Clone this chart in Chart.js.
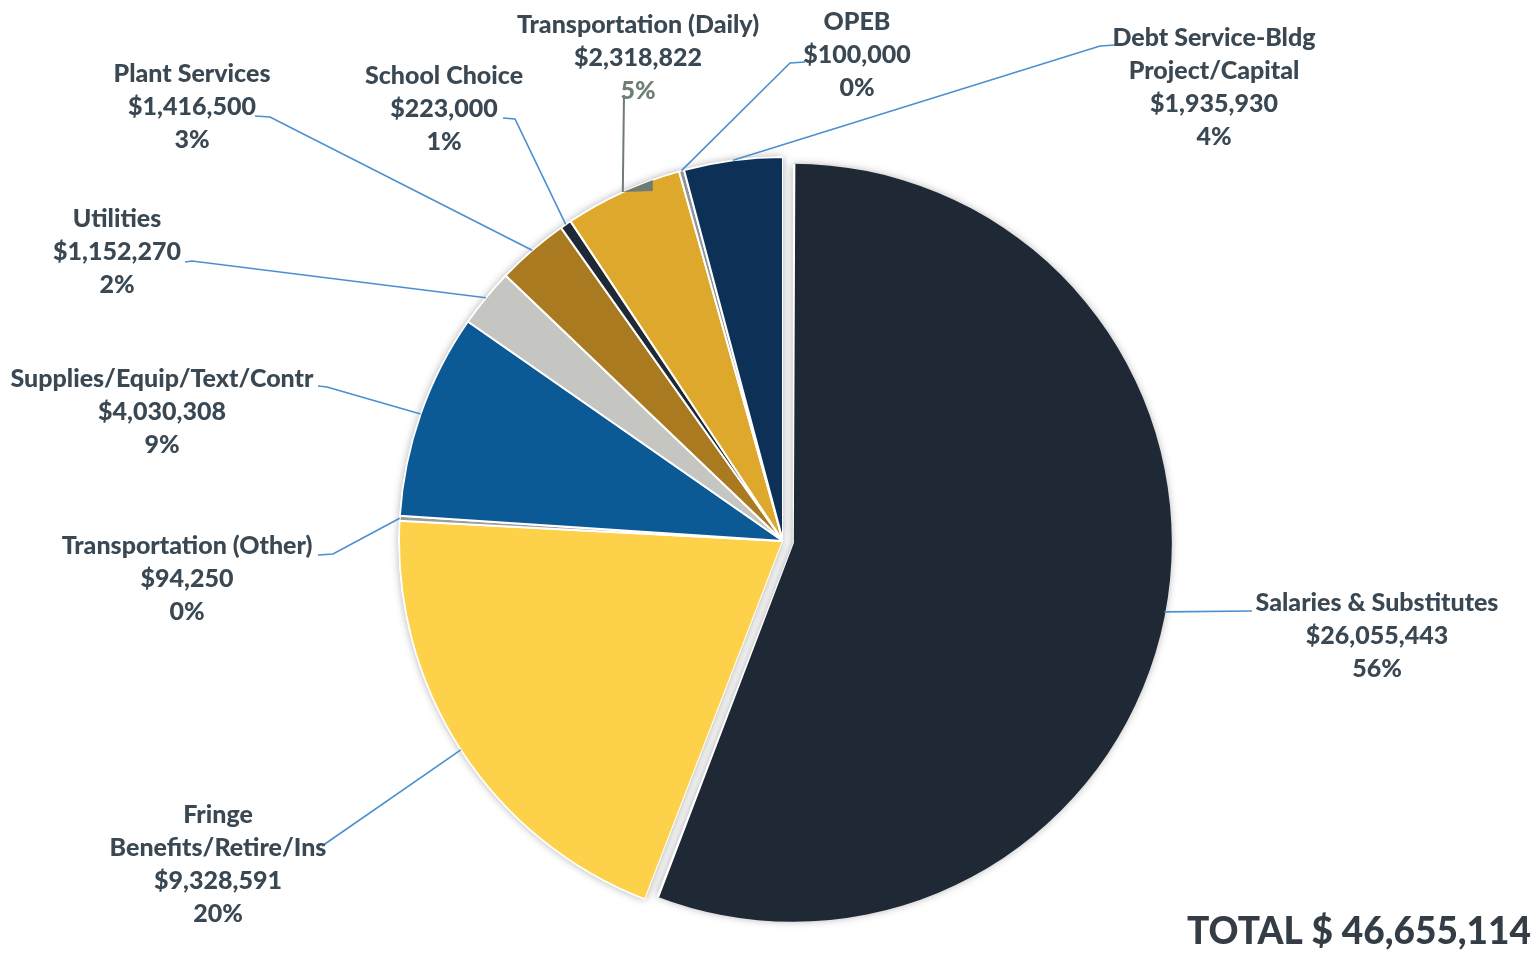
<!DOCTYPE html>
<html>
<head>
<meta charset="utf-8">
<title>Budget by Category</title>
<script src="https://cdn.jsdelivr.net/npm/chart.js@4.4.0/dist/chart.umd.min.js"></script>
<style>
  html, body { margin: 0; padding: 0; background: #ffffff; }
  #wrap { position: relative; width: 1537px; height: 953px; }
</style>
</head>
<body>
<div id="wrap"><canvas id="budgetPie"></canvas></div>
<script>
// Budget categories, clockwise from 12 o'clock
const categories = [
    'Salaries & Substitutes',
    ['Fringe', 'Benefits/Retire/Ins'],
    'Transportation (Other)',
    'Supplies/Equip/Text/Contr',
    'Utilities',
    'Plant Services',
    'School Choice',
    'Transportation (Daily)',
    'OPEB',
    ['Debt Service-Bldg', 'Project/Capital']
];
const amounts = [26055443, 9328591, 94250, 4030308, 1152270, 1416500, 223000, 2318822, 100000, 1935930];
const sliceColors = ['#1f2835', '#fdd149', '#9c9c9a', '#0b5a96', '#c5c5c1', '#a97a1f', '#1f2835', '#dea82d', '#8d949a', '#0d3057'];

// where each label block sits: centre x, first line y
const labelSpots = [
    [1377, 603], [218, 815], [187, 546], [162, 379], [117, 219],
    [192, 74], [444, 76], [638, 25], [857, 22], [1214, 38]
];
// leader line bend points (label side), nearest-to-text last
const leaderEnds = [
    [[1252, 611]],
    [[322, 846]],
    [[333, 554], [318, 555]],
    [[327, 387], [318, 386]],
    [[192, 261], [185, 262]],
    [[270, 117], [255, 116]],
    [[515, 119], [503, 118]],
    [[624, 95]],
    [[790, 63], [805, 62]],
    [[1100, 46], [1115, 45]]
];
// pulled-out distance of each slice in px, and how much smaller it is drawn
const sliceOffsets = [10, 0, 0, 0, 0, 0, 0, 0, 0, 0];
const sliceTrim = [6, 0, 0, 0, 0, 0, 0, 0, 0, 0];

const total = amounts.reduce((a, b) => a + b, 0);

// whole percentages that add up to 100 (largest remainder)
function wholePercents(vals) {
    const raw = vals.map(v => v / total * 100);
    const out = raw.map(Math.floor);
    let left = 100 - out.reduce((a, b) => a + b, 0);
    const order = raw.map((r, i) => [r - Math.floor(r), i]).sort((a, b) => b[0] - a[0]);
    for (let k = 0; k < left; k++) out[order[k][1]] += 1;
    return out;
}
const percents = wholePercents(amounts);

const money = v => '$' + v.toLocaleString('en-US');
const labelFont = '900 25px Lato, "Open Sans", sans-serif';
const textColor = '#3a4853';

function sliceGeometry(chart, i) {
    const el = chart.getDatasetMeta(0).data[i];
    const p = el.getProps(['x', 'y', 'startAngle', 'endAngle', 'outerRadius'], true);
    const mid = (p.startAngle + p.endAngle) / 2;
    const off = sliceOffsets[i];
    return {
        cx: p.x + Math.cos(mid) * off,
        cy: p.y + Math.sin(mid) * off,
        r: p.outerRadius - sliceTrim[i],
        start: p.startAngle,
        end: p.endAngle,
        mid: mid
    };
}

function wedge(ctx, g) {
    ctx.moveTo(g.cx, g.cy);
    ctx.arc(g.cx, g.cy, g.r, g.start, g.end);
    ctx.closePath();
}

// soft shadow under the pie, then clip the slices to their drawn size
const pieShadow = {
    id: 'pieShadow',
    beforeDatasetsDraw(chart) {
        const ctx = chart.ctx;
        const shapes = amounts.map((v, i) => sliceGeometry(chart, i));
        ctx.save();
        ctx.shadowColor = 'rgba(0,0,0,0.35)';
        ctx.shadowBlur = 9;
        ctx.fillStyle = '#ffffff';
        shapes.forEach(g => { ctx.beginPath(); wedge(ctx, g); ctx.fill(); });
        ctx.restore();

        ctx.save();
        ctx.beginPath();
        shapes.forEach(g => wedge(ctx, Object.assign({}, g, { r: g.r + 1 })));
        ctx.clip();
    },
    afterDatasetsDraw(chart) {
        chart.ctx.restore();
    }
};

// callout labels with leader lines
const calloutLabels = {
    id: 'calloutLabels',
    afterDatasetsDraw(chart) {
        const ctx = chart.ctx;
        ctx.save();
        amounts.forEach((v, i) => {
            const g = sliceGeometry(chart, i);
            const sx = g.cx + Math.cos(g.mid) * g.r;
            const sy = g.cy + Math.sin(g.mid) * g.r;
            const daily = i === 7;
            ctx.strokeStyle = daily ? '#6f7c73' : '#4a8fcf';
            ctx.lineWidth = daily ? 2 : 1.6;
            ctx.beginPath();
            ctx.moveTo(sx, sy);
            leaderEnds[i].forEach(pt => ctx.lineTo(pt[0], pt[1]));
            ctx.stroke();
            if (daily) {
                // little grey tab where the leader meets the slice
                ctx.fillStyle = '#6f7c73';
                ctx.beginPath();
                ctx.moveTo(sx, sy);
                ctx.lineTo(sx + 30, sy - 12);
                ctx.lineTo(sx + 30, sy - 1);
                ctx.closePath();
                ctx.fill();
            }

            const name = Array.isArray(categories[i]) ? categories[i] : [categories[i]];
            const lines = name.concat([money(v), percents[i] + '%']);
            ctx.font = labelFont;
            ctx.textAlign = 'center';
            ctx.textBaseline = 'middle';
            lines.forEach((t, k) => {
                const pctLine = k === lines.length - 1;
                ctx.fillStyle = daily && pctLine ? '#6e8074' : textColor;
                ctx.fillText(t, labelSpots[i][0], labelSpots[i][1] + k * 33);
            });
        });

        ctx.font = '900 37px Lato, "Open Sans", sans-serif';
        ctx.fillStyle = '#343d45';
        ctx.textAlign = 'right';
        ctx.textBaseline = 'middle';
        ctx.fillText('TOTAL $ ' + total.toLocaleString('en-US'), 1531, 932);
        ctx.restore();
    }
};

new Chart(document.getElementById('budgetPie'), {
    type: 'pie',
    data: {
        labels: categories,
        datasets: [{
            data: amounts,
            backgroundColor: sliceColors,
            borderColor: '#ffffff',
            borderWidth: 2,
            // arc elements move by a quarter of this value
            offset: sliceOffsets.map(o => o * 4)
        }]
    },
    options: {
        responsive: true,
        maintainAspectRatio: false,
        animation: false,
        radius: 384,
        layout: { padding: { left: 29, right: 0, top: 129, bottom: 0 } },
        plugins: {
            legend: { display: false },
            tooltip: { enabled: false }
        }
    },
    plugins: [pieShadow, calloutLabels]
});
</script>
</body>
</html>
